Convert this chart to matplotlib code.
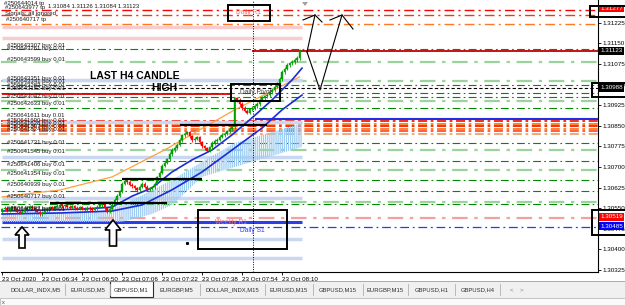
import numpy as np
import matplotlib.pyplot as plt
from matplotlib.patches import Rectangle, Polygon

plt.rcParams['font.family'] = ['Liberation Sans', 'DejaVu Sans']
plt.rcParams['hatch.linewidth'] = 0.9

BASE = 1.30000

# M1 closes, in points above 1.30000
close_pts = [546, 552, 541, 549, 553, 545, 538, 534, 537, 544, 552, 556,
             550, 543, 536, 529, 534, 541, 549, 553, 548, 554, 560, 563,
             558, 561, 555, 552, 557, 551, 548, 553, 549, 545, 551, 547,
             543, 550, 556, 561, 565, 550, 537, 548, 563, 580, 596, 612,
             640, 651, 646, 636, 630, 622, 615, 628, 640, 628, 617, 622,
             626, 640, 662, 680, 705, 716, 728, 748, 762, 771, 782, 798,
             815, 822, 826, 812, 798, 803, 808, 790, 775, 768, 760, 772,
             788, 795, 800, 810, 817, 822, 830, 838, 845, 950, 944, 930,
             915, 905, 898, 910, 915, 922, 930, 945, 951, 958, 962, 972,
             980, 992, 1005, 1020, 1046, 1058, 1071, 1078, 1082, 1090, 1097, 1123]
first_open_pts = 540

# moving averages (bar, price)
ma_slow_x = [0, 13, 23, 44, 65, 79, 93, 119]
ma_slow_y = [1.30591, 1.30606, 1.30616, 1.30664, 1.30762, 1.30835, 1.30908, 1.31028]
ma_fast_x = [0, 16, 32, 44, 52, 60, 68, 76, 84, 92, 100, 108, 116, 120]
ma_fast_y = [1.30540, 1.30543, 1.30547, 1.30554, 1.30594, 1.30624, 1.30682,
             1.30726, 1.30762, 1.30817, 1.30879, 1.30944, 1.31017, 1.31060]
ma_mid_x = [0, 24, 44, 56, 68, 80, 92, 104, 112, 120]
ma_mid_y = [1.30529, 1.30533, 1.30540, 1.30562, 1.30617, 1.30682, 1.30762,
            1.30842, 1.30908, 1.30962]

# shaded cloud
cloud_x = [0, 40, 48, 60, 68, 80, 93, 100, 120]
cloud_top = [1.30533, 1.30540, 1.30562, 1.30616, 1.30653, 1.30719, 1.30787, 1.30806, 1.30860]
cloud_bot = [1.30500, 1.30500, 1.30500, 1.30529, 1.30562, 1.30664, 1.30700, 1.30719, 1.30773]

# horizontal levels
green_levels = [1.31130, 1.30999, 1.30969, 1.30955, 1.30915, 1.30787, 1.30722,
                1.30653, 1.30613, 1.30565]
light_green_levels = [1.31082, 1.31013, 1.30940, 1.30762, 1.30689, 1.30573]
red_band = [1.30866, 1.30857, 1.30848, 1.30838, 1.30830, 1.30820]
red_band_colors = ['#ff1a00', '#ff7a1a', '#ff1a00', '#ff7a1a', '#ff5030', '#f0a070']
top_levels = [1.31272, 1.31253, 1.31222]
top_colors = ['#ff0000', '#ff3300', '#ff7722']
pink_levels = [1.31210, 1.31170]
lavender_levels = [1.31017, 1.30864, 1.30737, 1.30587, 1.30438, 1.30369]

order_labels = [
    (1.31144, "#250643307 buy 0.01"), (1.31133, "#250643261 buy 0.01"),
    (1.31093, "#250643599 buy 0.01"), (1.31024, "#250643351 buy 0.01"),
    (1.31013, "#250643341 buy 0.01"), (1.30995, "#250643282 buy 0.01"),
    (1.30986, "#250643162 buy 0.01"), (1.30958, "#250643047 buy 0.01"),
    (1.30933, "#250642633 buy 0.01"), (1.30886, "#250641611 buy 0.01"),
    (1.30871, "#250641690 buy 0.01"), (1.30859, "#250641628 buy 0.01"),
    (1.30848, "#250641897 buy 0.01"), (1.30837, "#250641824 buy 0.01"),
    (1.30791, "#250641731 buy 0.01"), (1.30755, "#250641545 buy 0.01"),
    (1.30708, "#250641406 buy 0.01"), (1.30675, "#250641354 buy 0.01"),
    (1.30635, "#250640939 buy 0.01"), (1.30591, "#250640717 buy 0.01"),
    (1.30548, "#250640292 buy 0.01"), (1.30544, "#250640262 buy 0.01"),
]

time_ticks = [0, 16, 32, 48, 64, 80, 96, 112]
time_labels = ["23 Oct 2020", "23 Oct 06:34", "23 Oct 06:50", "23 Oct 07:06",
               "23 Oct 07:22", "23 Oct 07:38", "23 Oct 07:54", "23 Oct 08:10"]
price_ticks = [1.31225, 1.31150, 1.31075, 1.31000, 1.30925, 1.30850, 1.30775,
               1.30700, 1.30625, 1.30550, 1.30475, 1.30400, 1.30325]
price_marks = [(1.31277, '#ff0000'), (1.31123, '#000000'), (1.30988, '#000000'),
               (1.30519, '#ff0000'), (1.30485, '#0000ff')]

tab_names = ["DOLLAR_INDX,M5", "EURUSD,M5", "GBPUSD,M1", "EURGBP,M5",
             "DOLLAR_INDX,M15", "EURUSD,M15", "GBPUSD,M15", "EURGBP,M15",
             "GBPUSD,H1", "GBPUSD,H4"]
tab_edges = [7, 65, 110, 153, 200, 265, 313, 363, 408, 455, 500]

closes = BASE + np.array(close_pts) / 1e5
opens = np.concatenate([[BASE + first_open_pts / 1e5], closes[:-1]])
bars = np.arange(len(closes))

fig = plt.figure(figsize=(6.25, 3.05), dpi=100)
ax = fig.add_axes([1 / 625, 1 - 272 / 305, 597 / 625, 272 / 305])
ax.set_xlim(-0.4, 238.4)
ax.set_ylim(1.30318, 1.31308)

DD = (0, (7, 3, 1.5, 3))

# levels
for y in green_levels:
    ax.axhline(y, color='#008a00', lw=0.8, ls=DD, zorder=1)
for y in light_green_levels:
    ax.axhline(y, color='#9ad49a', lw=1.6, ls=DD, zorder=1)
for y, c in zip(red_band, red_band_colors):
    ax.axhline(y, color=c, lw=1.3, ls=(0, (5, 2, 1.5, 2)), zorder=1)
for y, c in zip(top_levels, top_colors):
    ax.axhline(y, color=c, lw=1.0, ls=DD, zorder=1)
for y in pink_levels:
    ax.hlines(y, 0, 120, color='#f8cccc', lw=2.5, zorder=1)
for y in lavender_levels:
    ax.hlines(y, 0, 120, color='#c9d7f3', lw=2.5, zorder=1)
ax.axhline(1.30988, color='#000000', lw=0.8, ls=(0, (3, 2)), zorder=1)
ax.hlines(1.30965, 0, 92, color='#e00000', lw=1.3, zorder=2)
ax.hlines(1.31123, 100, 239, color='#c00000', lw=1.3, zorder=2)
ax.hlines(1.30875, 101, 239, color='#2030e0', lw=1.5, zorder=2)
ax.axhline(1.30514, color='#f4a0a0', lw=1.6, ls=DD, zorder=1)
ax.hlines(1.30500, 0, 120, color='#2a3fe8', lw=2.2, zorder=2)
ax.axhline(1.30482, color='#2040f0', lw=0.9, ls=DD, zorder=1)

# cloud
ax.fill_between(cloud_x, cloud_bot, cloud_top, facecolor='none',
                edgecolor='#9ccbf2', hatch='||||||||', lw=0, zorder=2)

# moving averages
ax.plot(ma_slow_x, ma_slow_y, color='#ffa040', lw=0.9, zorder=3)
ax.plot(ma_mid_x, ma_mid_y, color='#1a2cd8', lw=1.2, zorder=3)
ax.plot(ma_fast_x, ma_fast_y, color='#1a2cd8', lw=1.2, zorder=3)

# candles
for i in bars:
    o, c = opens[i], closes[i]
    col = '#00a000' if c >= o else '#ff0000'
    ax.vlines(i, min(o, c) - 0.00006, max(o, c) + 0.00006, color=col, lw=0.6, zorder=4)
    ax.add_patch(Rectangle((i - 0.38, min(o, c)), 0.76, max(abs(c - o), 0.00002),
                           facecolor=col, edgecolor=col, lw=0.3, zorder=4))

# drawn thick black lines
ax.hlines(1.30656, 48, 80, color='black', lw=1.6, zorder=5)
ax.hlines(1.30569, 19, 66, color='black', lw=1.6, zorder=5)
ax.hlines(1.30853, 71, 106, color='black', lw=1.6, zorder=5)

ax.axvline(100.4, color='black', lw=0.7, ls=(0, (1, 1.5)), zorder=5)

# order labels
for y, s in order_labels:
    ax.text(2, y, s, fontsize=4.3, color='#1a1a1a', va='center', ha='left', zorder=6)

# axes look
for s in ['top', 'left']:
    ax.spines[s].set_visible(False)
ax.spines['right'].set_linewidth(0.8)
ax.spines['bottom'].set_linewidth(0.8)
ax.yaxis.tick_right()
ax.set_yticks(price_ticks)
ax.set_yticklabels([f"{p:.5f}" for p in price_ticks])
ax.tick_params(axis='y', labelsize=4.5, length=2, width=0.6, pad=1.5)
ax.set_xticks(time_ticks)
ax.set_xticklabels(time_labels)
ax.tick_params(axis='x', labelsize=4.5, length=2, width=0.6, pad=1.5)
plt.setp(ax.get_xticklabels(), ha='left')
for p, c in price_marks:
    ax.text(1.004, p, f"{p:.5f}", transform=ax.get_yaxis_transform(), fontsize=4.5,
            color='white', va='center', ha='left', clip_on=False, zorder=7,
            bbox=dict(boxstyle='square,pad=0.2', fc=c, ec='none'))

# overlay in pixel space
ov = fig.add_axes([0, 0, 1, 1], zorder=10)
ov.set_xlim(0, 625)
ov.set_ylim(305, 0)
ov.axis('off')
ov.patch.set_alpha(0)

ov.text(4, 4, "#250644014 tp", fontsize=4.3, color='#1a1a1a', va='center')
ov.text(5, 7, "#250643977 tp", fontsize=4.3, color='#1a1a1a', va='center')
ov.text(48, 7, "1.31084 1.31126 1.31084 1.31123", fontsize=4.3, color='#1a1a1a', va='center')
ov.text(5, 14, "Signals: all ignored", fontsize=4.3, color='#1a1a1a', va='center')
ov.text(6, 20, "#250640717 tp", fontsize=4.3, color='#1a1a1a', va='center')

ov.text(90, 76, "LAST H4 CANDLE", fontsize=7.5, fontweight='bold', va='center')
ov.text(151, 88, "HIGH", fontsize=7.5, fontweight='bold', va='center')

boxes = [(228, 5, 42, 16), (231, 84, 49, 17), (198, 210, 89, 39),
         (590, 6, 36, 11), (592, 83, 34, 14), (592, 210, 34, 25)]
for x0, y0, w, h in boxes:
    ov.add_patch(Rectangle((x0, y0), w, h, fill=False, ec='black', lw=1.4))
ov.text(249, 13, "Daily R1", fontsize=4.8, color='#ff7070', ha='center', va='center')
ov.text(256, 92, "Daily Pivot", fontsize=4.8, color='#404040', ha='center', va='center')
ov.text(231, 222, "Weekly R1", fontsize=4.8, color='#ff6a6a', ha='center', va='center')
ov.text(252, 231, "Daily S1", fontsize=4.8, color='#3040ff', ha='center', va='center')
ov.plot([187], [243], marker='s', ms=1.2, color='black')

# hand drawn zigzag
ov.plot([303, 315, 322], [20, 15, 22], color='black', lw=0.8)
ov.plot([307, 315], [52, 15], color='black', lw=0.8)
ov.plot([307, 320, 342], [52, 90, 15], color='black', lw=0.8)
ov.plot([330, 342, 353], [20, 15, 29], color='black', lw=0.8)
ov.add_patch(Polygon([(302, 2), (308, 2), (305, 6)], closed=True, fc='#a0a0a0', ec='none'))


def up_arrow(cx, ty, by, hw, sw, hh):
    pts = [(cx, ty), (cx + hw / 2, ty + hh), (cx + sw / 2, ty + hh), (cx + sw / 2, by),
           (cx - sw / 2, by), (cx - sw / 2, ty + hh), (cx - hw / 2, ty + hh)]
    ov.add_patch(Polygon(pts, closed=True, fc='white', ec='black', lw=1.2))


up_arrow(22, 227, 248, 14, 6, 8)
up_arrow(113, 220, 246, 16, 7, 10)

# tab bar
ov.add_patch(Rectangle((0, 281), 625, 24, fc='#f0f0f0', ec='none'))
ov.plot([0, 625], [281, 281], color='#a0a0a0', lw=0.6)
ov.add_patch(Rectangle((0, 298), 625, 7, fc='#fafafa', ec='#b0b0b0', lw=0.5))
for k, name in enumerate(tab_names):
    x0, x1 = tab_edges[k], tab_edges[k + 1]
    if name == "GBPUSD,M1":
        ov.add_patch(Rectangle((x0, 281), x1 - x0, 16, fc='white', ec='#303030', lw=0.8))
    else:
        ov.plot([x1, x1], [284, 295], color='#b0b0b0', lw=0.6)
    ov.text((x0 + x1) / 2, 289.5, name, fontsize=4.2, color='#303030',
            ha='center', va='center')
ov.text(512, 289.5, "<", fontsize=4.5, color='#808080', ha='center', va='center')
ov.text(521, 289.5, ">", fontsize=4.5, color='#808080', ha='center', va='center')
ov.text(2, 302, "x", fontsize=4, color='#404040', va='center')

fig.savefig('out.png', dpi=100)
